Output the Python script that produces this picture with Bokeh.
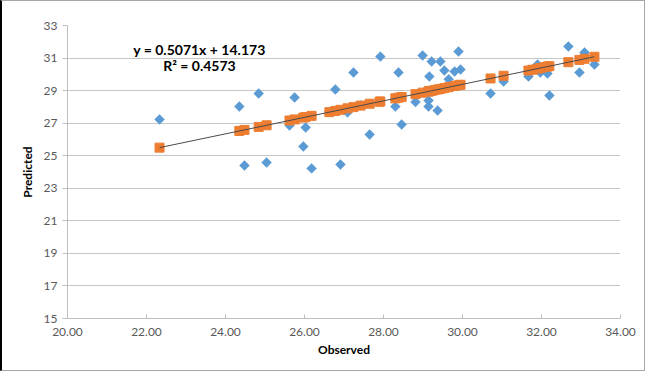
import math
from bokeh.plotting import figure
from bokeh.models import ColumnDataSource, Range1d, NumeralTickFormatter, Label
from bokeh.embed import file_html
from bokeh.resources import INLINE

# Observed vs predicted values
observed = [22.33, 24.35, 24.48, 24.84, 25.04, 25.62, 25.75, 25.97, 26.03, 26.18,
            26.63, 26.78, 26.91, 27.09, 27.24, 27.42, 27.65, 27.90, 27.92, 28.30,
            28.38, 28.46, 28.81, 28.99, 29.14, 29.14, 29.16, 29.22, 29.29, 29.37,
            29.44, 29.54, 29.65, 29.80, 29.90, 29.95, 30.71, 31.04, 31.67, 31.77,
            31.90, 31.97, 32.08, 32.15, 32.20, 32.68, 32.96, 33.09, 33.34]
predicted = [27.23, 28.02, 24.40, 28.82, 24.58, 26.86, 28.58, 25.57, 26.73, 24.22,
             27.70, 29.07, 24.46, 27.66, 30.11, 28.10, 26.30, 28.30, 31.09, 28.02,
             30.11, 26.92, 28.30, 31.16, 28.39, 28.02, 29.87, 30.79, 29.00, 27.78,
             30.79, 30.24, 29.70, 30.17, 31.40, 30.30, 28.82, 29.56, 29.87, 30.30,
             30.60, 30.11, 30.45, 30.05, 28.70, 31.71, 30.11, 31.34, 30.60]

# Linear trend shown on the chart
slope = 0.5071
intercept = 14.173
r_squared = 0.4573

x_ticks = [20, 22, 24, 26, 28, 30, 32, 34]
y_ticks = [15, 17, 19, 21, 23, 25, 27, 29, 31, 33]

fitted = [slope * v + intercept for v in observed]
trend_x = [min(observed), max(observed)]
trend_y = [slope * v + intercept for v in trend_x]

FONT = "Lato"

p = figure(width=645, height=371, output_backend="svg", toolbar_location=None,
           x_range=Range1d(x_ticks[0], x_ticks[-1]), y_range=Range1d(y_ticks[0], y_ticks[-1]),
           min_border_left=65, min_border_right=27, min_border_top=24, min_border_bottom=54)
p.styles = {"border": "1px solid #a6a6a6", "border-left": "2px solid #000000"}
p.outline_line_color = None
p.background_fill_color = "white"
p.border_fill_color = "white"

src = ColumnDataSource(dict(x=observed, y=predicted, f=fitted))
p.scatter("x", "y", source=src, marker="square", angle=math.pi / 4, size=7,
          fill_color="#5B9BD5", line_color="#5B9BD5", line_width=0.5)
p.scatter("x", "f", source=src, marker="square", size=9, fill_color="#ED7D31", line_color="#ED7D31")
p.line(trend_x, trend_y, line_color="#4a4a4a", line_width=1)

p.xgrid.grid_line_color = None
p.ygrid.grid_line_color = "#c6c6c6"
p.ygrid.grid_line_width = 1

p.xaxis.ticker = x_ticks
p.yaxis.ticker = y_ticks
p.xaxis.formatter = NumeralTickFormatter(format="0.00")
for ax in (p.xaxis[0], p.yaxis[0]):
    ax.axis_line_color = "#bfbfbf"
    ax.major_tick_line_color = "#bfbfbf"
    ax.minor_tick_line_color = None
    ax.major_label_text_font = FONT
    ax.major_label_text_font_size = "12px"
    ax.major_label_text_color = "#595959"
    ax.axis_label_text_font = FONT
    ax.axis_label_text_font_size = "12px"
    ax.axis_label_text_font_style = "bold"
    ax.axis_label_text_color = "#000000"

p.xaxis.major_tick_in = 4
p.xaxis.major_tick_out = 0
p.xaxis.major_label_standoff = 9
p.xaxis.axis_label = "Observed"
p.xaxis.axis_label_standoff = 3

p.yaxis.major_tick_in = 0
p.yaxis.major_tick_out = 5
p.yaxis.major_label_standoff = 5
p.yaxis.axis_label = "Predicted"
p.yaxis.axis_label_standoff = 6

eq_text = "y = %.4fx + %.3f" % (slope, intercept)
r2_text = "R\u00b2 = %.4f" % r_squared
p.add_layout(Label(x=23.34, y=31.53, text=eq_text, text_align="center", text_baseline="middle",
                   text_font=FONT, text_font_size="14px", text_font_style="bold", text_color="#000000"))
p.add_layout(Label(x=23.34, y=30.54, text=r2_text, text_align="center", text_baseline="middle",
                   text_font=FONT, text_font_size="14px", text_font_style="bold", text_color="#000000"))

open("out.html", "w").write(file_html(p, INLINE))
